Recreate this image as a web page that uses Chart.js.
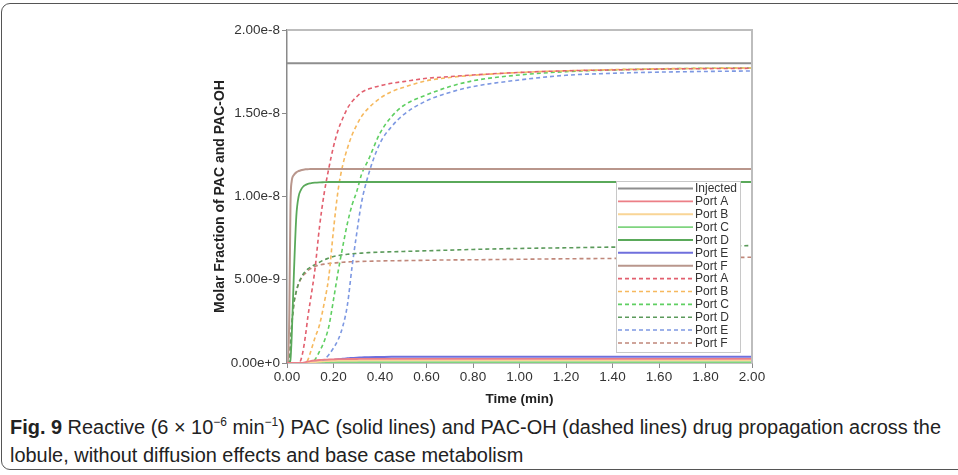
<!DOCTYPE html>
<html>
<head>
<meta charset="utf-8">
<script src="https://cdn.jsdelivr.net/npm/chart.js@4.4.0/dist/chart.umd.min.js"></script>
<style>
  body { margin: 0; background: #fff; width: 958px; height: 475px; overflow: hidden; position: relative; font-family: "Liberation Sans", Arial, sans-serif; }
  #frame { position: absolute; left: 1px; top: 3px; width: 990px; height: 465px; border: 1.5px solid #555; border-radius: 9px; }
  #wrap { position: absolute; left: 0; top: 0; width: 958px; height: 410px; }
  #caption { position: absolute; left: 10px; top: 413px; font-family: "Liberation Sans", Arial, sans-serif; font-size: 20px; line-height: 28px; color: #222; white-space: nowrap; transform-origin: 0 0; }
  #caption sup { font-size: 12px; line-height: 0; }
</style>
</head>
<body>
<div id="frame"></div>
<div id="wrap"><canvas id="myChart"></canvas></div>
<div id="caption"><span id="cap1"><b>Fig. 9</b> Reactive (6 × 10<sup>−6</sup> min<sup>−1</sup>) PAC (solid lines) and PAC-OH (dashed lines) drug propagation across the</span><br>lobule, without diffusion effects and base case metabolism</div>
<script>
// time grid (min), values in units of 1e-8 molar fraction
var UNIT = 1e-8;
var time = [0, 0.005, 0.01, 0.015, 0.02, 0.03, 0.04, 0.05, 0.06, 0.07, 0.08, 0.09, 0.10, 0.12, 0.14, 0.16, 0.18, 0.20, 0.22, 0.24, 0.26, 0.28, 0.30, 0.32, 0.35, 0.40, 0.45, 0.50, 0.60, 0.70, 0.80, 1.00, 1.20, 1.40, 1.60, 1.80, 2.00];

var injected = [1.8, 1.8, 1.8, 1.8, 1.8, 1.8, 1.8, 1.8, 1.8, 1.8, 1.8, 1.8, 1.8, 1.8, 1.8, 1.8, 1.8, 1.8, 1.8, 1.8, 1.8, 1.8, 1.8, 1.8, 1.8, 1.8, 1.8, 1.8, 1.8, 1.8, 1.8, 1.8, 1.8, 1.8, 1.8, 1.8, 1.8];

// PAC (solid)
var pacA = [0, 0, 0, 0, 0, 0, 0, 0, 0, 0.002, 0.005, 0.008, 0.011, 0.015, 0.018, 0.02, 0.021, 0.022, 0.023, 0.023, 0.024, 0.024, 0.024, 0.025, 0.025, 0.025, 0.025, 0.025, 0.025, 0.025, 0.025, 0.025, 0.025, 0.025, 0.025, 0.025, 0.025];
var pacB = [0, 0, 0, 0, 0, 0, 0, 0, 0, 0, 0, 0.002, 0.003, 0.005, 0.008, 0.01, 0.012, 0.013, 0.014, 0.014, 0.015, 0.015, 0.015, 0.016, 0.016, 0.016, 0.016, 0.016, 0.016, 0.016, 0.016, 0.016, 0.016, 0.016, 0.016, 0.016, 0.016];
var pacC = [0, 0, 0, 0, 0, 0, 0, 0, 0, 0, 0, 0, 0, 0.001, 0.002, 0.003, 0.004, 0.004, 0.005, 0.005, 0.005, 0.005, 0.005, 0.005, 0.005, 0.005, 0.005, 0.005, 0.005, 0.005, 0.005, 0.005, 0.005, 0.005, 0.005, 0.005, 0.005];
var pacD = [0, 0, 0, 0.02, 0.15, 0.55, 0.88, 1.0, 1.04, 1.06, 1.07, 1.076, 1.079, 1.083, 1.085, 1.086, 1.087, 1.087, 1.087, 1.087, 1.087, 1.087, 1.087, 1.087, 1.087, 1.087, 1.087, 1.087, 1.087, 1.087, 1.087, 1.087, 1.087, 1.087, 1.087, 1.087, 1.087];
var pacE = [0, 0, 0, 0, 0, 0, 0, 0, 0, 0, 0, 0, 0.001, 0.003, 0.006, 0.01, 0.014, 0.018, 0.022, 0.025, 0.028, 0.03, 0.032, 0.033, 0.035, 0.036, 0.037, 0.037, 0.038, 0.038, 0.038, 0.038, 0.038, 0.038, 0.038, 0.038, 0.038];
var pacF = [0, 0, 0.3, 0.95, 1.09, 1.13, 1.145, 1.153, 1.158, 1.161, 1.163, 1.164, 1.165, 1.165, 1.165, 1.165, 1.165, 1.165, 1.165, 1.165, 1.165, 1.165, 1.165, 1.165, 1.165, 1.165, 1.165, 1.165, 1.165, 1.165, 1.165, 1.165, 1.165, 1.165, 1.165, 1.165, 1.165];

// PAC-OH (dashed)
var ohA = [0, 0, 0, 0, 0, 0, 0, 0, 0.02, 0.08, 0.17, 0.28, 0.37, 0.56, 0.82, 1.02, 1.17, 1.30, 1.40, 1.47, 1.53, 1.57, 1.60, 1.625, 1.645, 1.665, 1.68, 1.69, 1.71, 1.72, 1.73, 1.745, 1.755, 1.76, 1.765, 1.768, 1.77];
var ohB = [0, 0, 0, 0, 0, 0, 0, 0, 0, 0, 0, 0.02, 0.06, 0.15, 0.23, 0.36, 0.52, 0.80, 1.04, 1.19, 1.29, 1.37, 1.43, 1.48, 1.53, 1.59, 1.63, 1.655, 1.695, 1.715, 1.728, 1.745, 1.755, 1.762, 1.767, 1.77, 1.772];
var ohC = [0, 0, 0, 0, 0, 0, 0, 0, 0, 0, 0, 0, 0, 0.02, 0.07, 0.13, 0.22, 0.38, 0.55, 0.70, 0.84, 0.95, 1.03, 1.13, 1.22, 1.38, 1.48, 1.545, 1.61, 1.66, 1.695, 1.73, 1.75, 1.76, 1.766, 1.77, 1.772];
var ohD = [0, 0, 0.02, 0.12, 0.22, 0.36, 0.43, 0.48, 0.51, 0.535, 0.55, 0.565, 0.575, 0.59, 0.605, 0.62, 0.63, 0.64, 0.645, 0.65, 0.653, 0.656, 0.658, 0.66, 0.663, 0.666, 0.668, 0.67, 0.674, 0.678, 0.682, 0.688, 0.692, 0.696, 0.699, 0.702, 0.705];
var ohE = [0, 0, 0, 0, 0, 0, 0, 0, 0, 0, 0, 0, 0, 0, 0, 0.02, 0.05, 0.09, 0.14, 0.22, 0.35, 0.58, 0.78, 0.96, 1.13, 1.32, 1.42, 1.49, 1.575, 1.625, 1.66, 1.70, 1.728, 1.74, 1.747, 1.751, 1.754];
var ohF = [0, 0, 0.02, 0.12, 0.22, 0.36, 0.43, 0.475, 0.505, 0.527, 0.54, 0.555, 0.565, 0.58, 0.588, 0.594, 0.598, 0.60, 0.603, 0.605, 0.607, 0.608, 0.609, 0.61, 0.611, 0.613, 0.614, 0.615, 0.617, 0.619, 0.62, 0.623, 0.626, 0.628, 0.631, 0.633, 0.635];

var yTicks = [0, 0.5, 1.0, 1.5, 2.0];

// squeeze the caption to the condensed width of the original
var cap = document.getElementById('caption');
var w1 = document.getElementById('cap1').getBoundingClientRect().width;
cap.style.transform = 'scaleX(' + (931 / w1) + ')';

function pts(arr) {
  var out = [];
  for (let i in time) {
    out.push({ x: time[i], y: arr[i] * UNIT });
  }
  return out;
}

function line(label, arr, color, dashed, width) {
  return {
    label: label,
    data: pts(arr),
    borderColor: color,
    borderWidth: width || 1.6,
    borderDash: dashed ? [4, 3] : [],
    pointRadius: 0,
    fill: false,
    cubicInterpolationMode: 'monotone'
  };
}

var datasets = [
  line('Injected', injected, '#8e8e8e', false, 2),
  line('Port A', pacA, '#ec7f86', false, 1.8),
  line('Port B', pacB, '#f9d596', false, 1.8),
  line('Port C', pacC, '#7fd47f', false, 1.8),
  line('Port D', pacD, '#5aa95a', false, 1.8),
  line('Port E', pacE, '#6f6fdc', false, 2),
  line('Port F', pacF, '#b9968c', false, 2),
  line('Port A', ohA, '#e25f6e', true),
  line('Port B', ohB, '#f6b95e', true),
  line('Port C', ohC, '#5fcf62', true),
  line('Port D', ohD, '#5b9a5b', true),
  line('Port E', ohE, '#7d98e2', true),
  line('Port F', ohF, '#c0877a', true)
];

// frame on top/right plus legend box inside the plot
var extras = {
  id: 'extras',
  afterDatasetsDraw(chart) {
    var ctx = chart.ctx, a = chart.chartArea;
    ctx.save();
    ctx.strokeStyle = '#bdbdbd';
    ctx.lineWidth = 2;
    ctx.beginPath();
    ctx.moveTo(a.left, a.top);
    ctx.lineTo(a.right, a.top);
    ctx.lineTo(a.right, a.bottom);
    ctx.stroke();

    var bx = 616, by = 181, bw = 124, bh = 171;
    ctx.fillStyle = '#fff';
    ctx.fillRect(bx, by, bw, bh);
    ctx.strokeStyle = '#c8c8c8';
    ctx.lineWidth = 1;
    ctx.strokeRect(bx + 0.5, by + 0.5, bw, bh);
    ctx.font = '12px "Liberation Sans", Arial, sans-serif';
    ctx.textBaseline = 'middle';
    chart.data.datasets.forEach(function (ds, i) {
      var y = 188.5 + i * 12.87;
      ctx.strokeStyle = ds.borderColor;
      ctx.lineWidth = ds.borderWidth;
      ctx.setLineDash(ds.borderDash);
      ctx.beginPath();
      ctx.moveTo(618, y);
      ctx.lineTo(693, y);
      ctx.stroke();
      ctx.setLineDash([]);
      ctx.fillStyle = '#333';
      ctx.fillText(ds.label, 695, y + 0.5);
    });
    ctx.restore();
  }
};

var myChart = new Chart('myChart', {
  type: 'line',
  data: { datasets: datasets },
  options: {
    responsive: true,
    maintainAspectRatio: false,
    animation: false,
    layout: { padding: { left: 212, top: 30, right: 206, bottom: 0 } },
    plugins: { legend: { display: false }, tooltip: { enabled: false } },
    scales: {
      x: {
        type: 'linear', min: 0, max: 2,
        afterFit: function (s) { s.height = 47; },
        border: { display: true, color: '#8a8a8a', width: 1.5 },
        grid: { drawOnChartArea: false, drawTicks: true, tickLength: 5, color: '#8a8a8a' },
        ticks: { stepSize: 0.2, color: '#333', font: { size: 13.5, family: '"Liberation Sans", Arial' }, padding: 1, maxRotation: 0,
          callback: function (v) { return Number(v).toFixed(2); } },
        title: { display: true, text: 'Time (min)', color: '#222', font: { size: 13.5, weight: 'bold', family: '"Liberation Sans", Arial' }, padding: { top: 2, bottom: 3 } }
      },
      y: {
        type: 'linear', min: 0, max: 2 * UNIT,
        afterFit: function (s) { s.width = 75; },
        afterBuildTicks: function (s) { s.ticks = yTicks.map(function (v) { return { value: v * UNIT }; }); },
        border: { display: true, color: '#8a8a8a', width: 1.5 },
        grid: { drawOnChartArea: false, drawTicks: true, tickLength: 5, color: '#8a8a8a' },
        ticks: { color: '#333', font: { size: 13.5, family: '"Liberation Sans", Arial' }, padding: 2,
          callback: function (v) { return Number(v).toExponential(2); } },
        title: { display: true, text: 'Molar Fraction of PAC and PAC-OH', color: '#222', font: { size: 14, weight: 'bold', family: '"Liberation Sans", Arial' }, padding: { top: 0, bottom: 0 } }
      }
    }
  },
  plugins: [extras]
});
</script>
</body>
</html>
